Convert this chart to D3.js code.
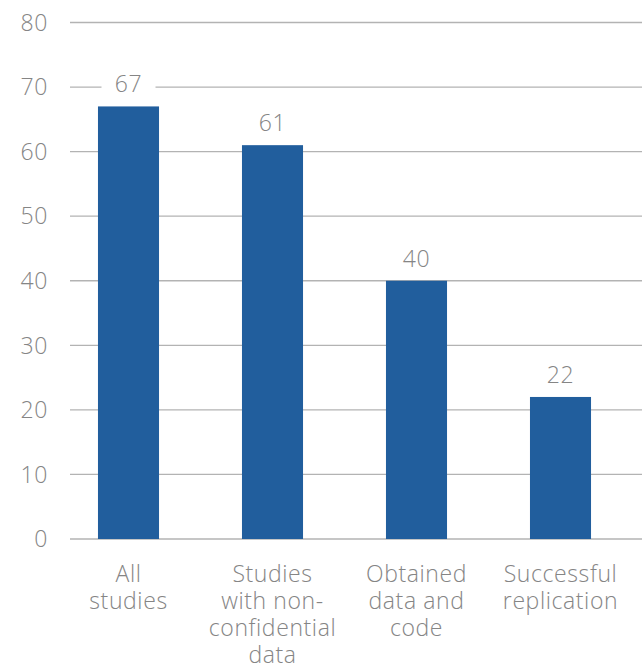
<!DOCTYPE html>
<html>
<head>
<meta charset="utf-8">
<script src="https://cdn.jsdelivr.net/npm/d3@7"></script>
<style>
  body { margin: 0; background: #fff; }
  text { font-family: "Open Sans", sans-serif; font-weight: 300; fill: #858585; letter-spacing: 0.6px; }
</style>
</head>
<body>
<div id="chart"></div>
<script>
var categories = [
  ["All", "studies"],
  ["Studies", "with non-", "confidential", "data"],
  ["Obtained", "data and", "code"],
  ["Successful", "replication"]
];
var values = [67, 61, 40, 22];
var yTicks = [0, 10, 20, 30, 40, 50, 60, 70, 80];

var width = 642, height = 666;
var barColor = "#215e9d";
var gridColor = "#b3b3b3";
var fontSize = 23;

var svg = d3.select("#chart").append("svg")
    .attr("width", width)
    .attr("height", height);

var x = d3.scaleBand()
    .domain(d3.range(values.length))
    .range([56.5, 632.5])
    .paddingInner(0.576)
    .paddingOuter(0.288);

var y = d3.scaleLinear()
    .domain([0, 80])
    .range([539, 22.5]);

// gridlines
svg.append("g")
  .selectAll("line")
  .data(yTicks)
  .enter().append("line")
    .attr("x1", 70)
    .attr("x2", width)
    .attr("y1", d => y(d))
    .attr("y2", d => y(d))
    .attr("stroke", gridColor)
    .attr("stroke-width", 1.3);

// y labels
svg.append("g")
  .selectAll("text")
  .data(yTicks)
  .enter().append("text")
    .attr("x", 48)
    .attr("y", d => y(d))
    .attr("dy", "0.36em")
    .attr("text-anchor", "end")
    .style("font-size", fontSize + "px")
    .text(d => d);

// bars
svg.append("g")
  .selectAll("rect")
  .data(values)
  .enter().append("rect")
    .attr("x", (d, i) => x(i))
    .attr("width", x.bandwidth())
    .attr("y", d => y(d))
    .attr("height", d => y(0) - y(d))
    .attr("fill", barColor);

// value labels with white backing
var lab = svg.append("g")
  .selectAll("g")
  .data(values)
  .enter().append("g")
    .attr("transform", (d, i) => "translate(" + (x(i) + x.bandwidth() / 2) + "," + (y(d) - 14) + ")");

lab.append("rect")
    .attr("x", -27)
    .attr("y", -24)
    .attr("width", 54)
    .attr("height", 30)
    .attr("fill", "#fff");

lab.append("text")
    .attr("text-anchor", "middle")
    .style("font-size", fontSize + "px")
    .text(d => d);

// category labels
var cat = svg.append("g")
  .selectAll("text")
  .data(categories)
  .enter().append("text")
    .attr("text-anchor", "middle")
    .attr("transform", (d, i) => "translate(" + (x(i) + x.bandwidth() / 2) + ",582)")
    .style("font-size", fontSize + "px");

cat.selectAll("tspan")
  .data(d => d)
  .enter().append("tspan")
    .attr("x", 0)
    .attr("y", (d, i) => i * 27)
    .text(d => d);
</script>
</body>
</html>
